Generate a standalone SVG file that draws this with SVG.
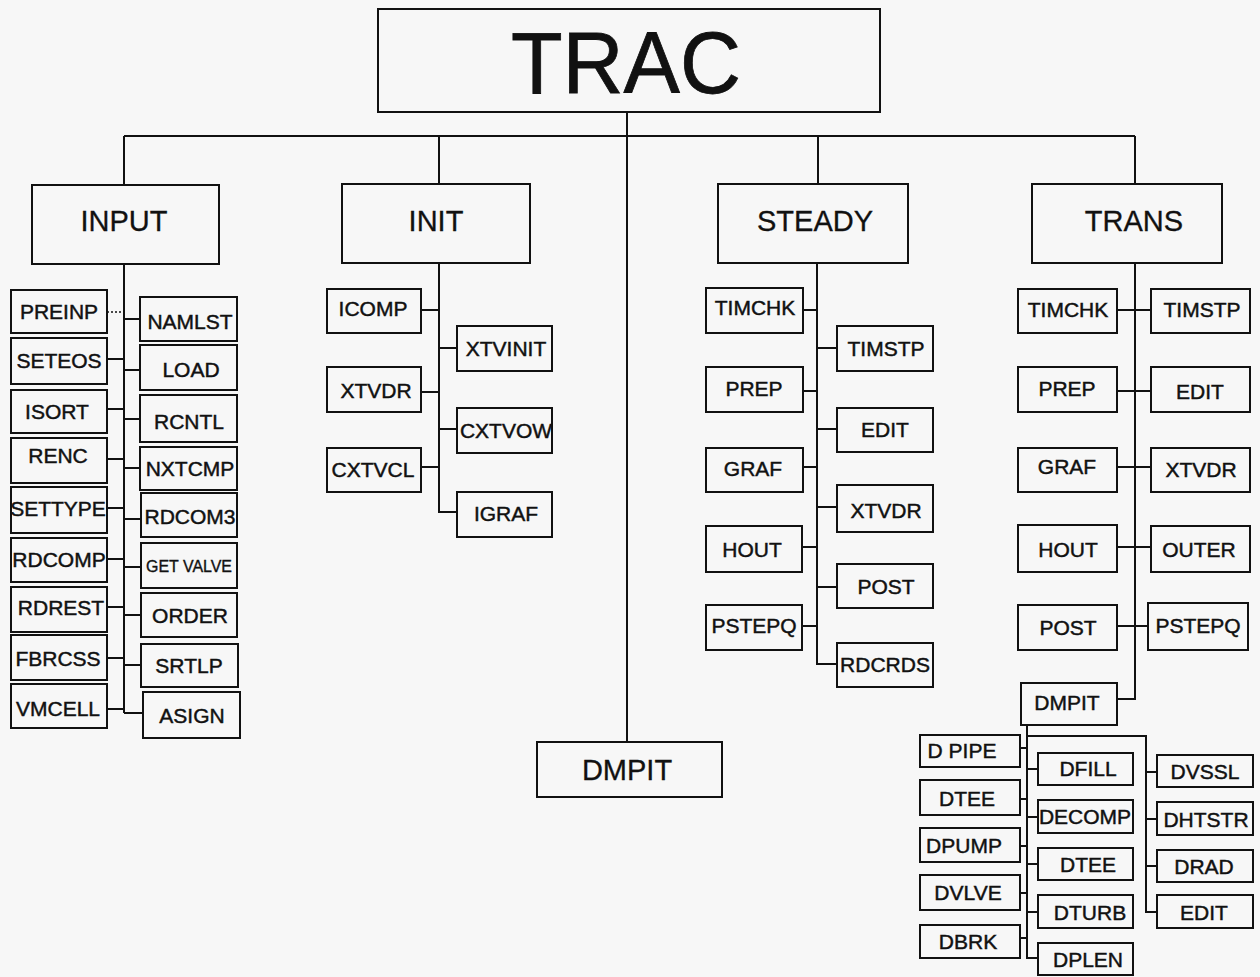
<svg xmlns="http://www.w3.org/2000/svg" width="1260" height="977" viewBox="0 0 1260 977">
  <style>
    .bg { fill: #f7f7f7; }
    .box { fill: none; stroke: #111; stroke-width: 2; }
    .ln { fill: none; stroke: #111; stroke-width: 2; }
    .dot { fill: none; stroke: #111; stroke-width: 1.5; stroke-dasharray: 2 2; }
    text { font-family: "Liberation Sans", Arial, Helvetica, sans-serif; fill: #111; text-anchor: middle; }
    .lbl { font-size: 21px; stroke: #111; stroke-width: 0.45; }
    .sm { font-size: 16px; stroke: #111; stroke-width: 0.35; }
    .mid { font-size: 29px; stroke: #111; stroke-width: 0.3; }
    .big { font-size: 88px; stroke: #111; stroke-width: 0.8; }
  </style>
  <rect class="bg" x="0" y="0" width="1260" height="977"/>

  <!-- connectors -->
  <g id="connectors">
    <!-- root bus -->
    <path class="ln" d="M627 112 V742 M124 136 H1135 M124 136 V185 M439 136 V184 M818 136 V184 M1135 136 V184"/>
    <!-- INPUT branch -->
    <path class="ln" d="M124 264 V713"/>
    <path class="dot" d="M107 312 H124"/>
    <path class="ln" d="M107 359 H124 M107 409 H124 M107 459 H124 M107 508 H124 M107 559 H124 M107 607 H124 M107 658 H124 M107 709 H124"/>
    <path class="ln" d="M124 319 H140 M124 370 H140 M124 419 H140 M124 468 H140 M124 519 H141 M124 567 H141 M124 615 H141 M124 665 H141 M124 713 H143"/>
    <!-- INIT branch -->
    <path class="ln" d="M439 263 V512 H457 M421 310 H439 M421 392 H439 M421 467 H439 M439 348 H457 M439 429 H457"/>
    <!-- STEADY branch -->
    <path class="ln" d="M817 263 V664 H837 M803 310 H817 M803 391 H817 M803 467 H817 M802 547 H817 M802 626 H817 M817 348 H837 M817 429 H837 M817 507 H837 M817 587 H837"/>
    <!-- TRANS branch -->
    <path class="ln" d="M1135 263 V699 H1117 M1117 310 H1151 M1117 391 H1151 M1117 467 H1151 M1117 547 H1151 M1117 626 H1148"/>
    <!-- TRANS / DMPIT branch -->
    <path class="ln" d="M1027 725 V958 H1038 M1027 736 H1146 V912 H1157"/>
    <path class="ln" d="M1020 748 H1027 M1020 799 H1027 M1020 846 H1027 M1020 893 H1027 M1020 938 H1027"/>
    <path class="ln" d="M1027 769 H1038 M1027 817 H1038 M1027 864 H1038 M1027 912 H1038"/>
    <path class="ln" d="M1146 772 H1157 M1146 819 H1157 M1146 866 H1157"/>
  </g>

  <!-- root -->
  <g id="trac"><rect class="box" x="378" y="9" width="502" height="103"/><text class="big" x="626" y="93" textLength="230" lengthAdjust="spacingAndGlyphs">TRAC</text></g>

  <!-- top level -->
  <g id="input"><rect class="box" x="32" y="185" width="187" height="79"/><text class="mid" x="124" y="231">INPUT</text></g>
  <g id="init"><rect class="box" x="342" y="184" width="188" height="79"/><text class="mid" x="436" y="231">INIT</text></g>
  <g id="steady"><rect class="box" x="718" y="184" width="190" height="79"/><text class="mid" x="815" y="231">STEADY</text></g>
  <g id="trans"><rect class="box" x="1032" y="184" width="190" height="79"/><text class="mid" x="1134" y="231">TRANS</text></g>
  <g id="dmpit"><rect class="box" x="537" y="742" width="185" height="55"/><text class="mid" x="627" y="780">DMPIT</text></g>

  <!-- INPUT children -->
  <g id="input-preinp"><rect class="box" x="11" y="290" width="96" height="43"/><text class="lbl" x="59" y="319">PREINP</text></g>
  <g id="input-seteos"><rect class="box" x="11" y="338" width="96" height="46"/><text class="lbl" x="59" y="368">SETEOS</text></g>
  <g id="input-isort"><rect class="box" x="11" y="390" width="96" height="43"/><text class="lbl" x="57" y="419">ISORT</text></g>
  <g id="input-renc"><rect class="box" x="11" y="438" width="96" height="45"/><text class="lbl" x="58" y="463">RENC</text></g>
  <g id="input-settype"><rect class="box" x="11" y="487" width="96" height="46"/><text class="lbl" x="58" y="516">SETTYPE</text></g>
  <g id="input-rdcomp"><rect class="box" x="11" y="538" width="96" height="44"/><text class="lbl" x="59" y="567">RDCOMP</text></g>
  <g id="input-rdrest"><rect class="box" x="11" y="587" width="96" height="45"/><text class="lbl" x="61" y="615">RDREST</text></g>
  <g id="input-fbrcss"><rect class="box" x="11" y="635" width="96" height="45"/><text class="lbl" x="58" y="666">FBRCSS</text></g>
  <g id="input-vmcell"><rect class="box" x="11" y="684" width="96" height="44"/><text class="lbl" x="58" y="716">VMCELL</text></g>

  <g id="input-namlst"><rect class="box" x="140" y="297" width="97" height="44"/><text class="lbl" x="190" y="329">NAMLST</text></g>
  <g id="input-load"><rect class="box" x="140" y="345" width="97" height="45"/><text class="lbl" x="191" y="377">LOAD</text></g>
  <g id="input-rcntl"><rect class="box" x="140" y="395" width="97" height="47"/><text class="lbl" x="189" y="429">RCNTL</text></g>
  <g id="input-nxtcmp"><rect class="box" x="140" y="447" width="97" height="43"/><text class="lbl" x="190" y="476">NXTCMP</text></g>
  <g id="input-rdcom3"><rect class="box" x="141" y="493" width="96" height="44"/><text class="lbl" x="190" y="524">RDCOM3</text></g>
  <g id="input-getvalve"><rect class="box" x="141" y="543" width="96" height="45"/><text class="sm" x="189" y="572" textLength="86" lengthAdjust="spacingAndGlyphs">GET VALVE</text></g>
  <g id="input-order"><rect class="box" x="141" y="593" width="96" height="44"/><text class="lbl" x="190" y="623">ORDER</text></g>
  <g id="input-srtlp"><rect class="box" x="141" y="644" width="97" height="43"/><text class="lbl" x="189" y="673">SRTLP</text></g>
  <g id="input-asign"><rect class="box" x="143" y="692" width="97" height="46"/><text class="lbl" x="192" y="723">ASIGN</text></g>

  <!-- INIT children -->
  <g id="init-icomp"><rect class="box" x="327" y="289" width="94" height="44"/><text class="lbl" x="373" y="316">ICOMP</text></g>
  <g id="init-xtvdr"><rect class="box" x="327" y="367" width="94" height="45"/><text class="lbl" x="376" y="398">XTVDR</text></g>
  <g id="init-cxtvcl"><rect class="box" x="327" y="448" width="94" height="44"/><text class="lbl" x="373" y="477">CXTVCL</text></g>
  <g id="init-xtvinit"><rect class="box" x="457" y="326" width="95" height="45"/><text class="lbl" x="506" y="356">XTVINIT</text></g>
  <g id="init-cxtvow"><rect class="box" x="457" y="408" width="95" height="45"/><text class="lbl" x="506" y="438">CXTVOW</text></g>
  <g id="init-igraf"><rect class="box" x="457" y="492" width="95" height="45"/><text class="lbl" x="506" y="521">IGRAF</text></g>

  <!-- STEADY children -->
  <g id="steady-timchk"><rect class="box" x="706" y="288" width="97" height="45"/><text class="lbl" x="755" y="315">TIMCHK</text></g>
  <g id="steady-prep"><rect class="box" x="706" y="367" width="97" height="45"/><text class="lbl" x="754" y="396">PREP</text></g>
  <g id="steady-graf"><rect class="box" x="706" y="448" width="97" height="44"/><text class="lbl" x="753" y="476">GRAF</text></g>
  <g id="steady-hout"><rect class="box" x="706" y="526" width="96" height="46"/><text class="lbl" x="752" y="557">HOUT</text></g>
  <g id="steady-pstepq"><rect class="box" x="706" y="605" width="96" height="45"/><text class="lbl" x="754" y="633">PSTEPQ</text></g>
  <g id="steady-timstp"><rect class="box" x="837" y="326" width="96" height="45"/><text class="lbl" x="886" y="356">TIMSTP</text></g>
  <g id="steady-edit"><rect class="box" x="837" y="408" width="96" height="44"/><text class="lbl" x="885" y="437">EDIT</text></g>
  <g id="steady-xtvdr"><rect class="box" x="837" y="485" width="96" height="47"/><text class="lbl" x="886" y="518">XTVDR</text></g>
  <g id="steady-post"><rect class="box" x="837" y="564" width="96" height="44"/><text class="lbl" x="886" y="594">POST</text></g>
  <g id="steady-rdcrds"><rect class="box" x="837" y="643" width="96" height="44"/><text class="lbl" x="885" y="672">RDCRDS</text></g>

  <!-- TRANS children -->
  <g id="trans-timchk"><rect class="box" x="1018" y="289" width="99" height="44"/><text class="lbl" x="1068" y="317">TIMCHK</text></g>
  <g id="trans-prep"><rect class="box" x="1018" y="367" width="99" height="45"/><text class="lbl" x="1067" y="396">PREP</text></g>
  <g id="trans-graf"><rect class="box" x="1018" y="448" width="99" height="44"/><text class="lbl" x="1067" y="474">GRAF</text></g>
  <g id="trans-hout"><rect class="box" x="1018" y="525" width="99" height="47"/><text class="lbl" x="1068" y="557">HOUT</text></g>
  <g id="trans-post"><rect class="box" x="1018" y="605" width="99" height="45"/><text class="lbl" x="1068" y="635">POST</text></g>
  <g id="trans-dmpit"><rect class="box" x="1021" y="683" width="96" height="42"/><text class="lbl" x="1067" y="710">DMPIT</text></g>
  <g id="trans-timstp"><rect class="box" x="1151" y="289" width="99" height="44"/><text class="lbl" x="1202" y="317">TIMSTP</text></g>
  <g id="trans-edit"><rect class="box" x="1151" y="367" width="99" height="45"/><text class="lbl" x="1200" y="399">EDIT</text></g>
  <g id="trans-xtvdr"><rect class="box" x="1151" y="448" width="99" height="44"/><text class="lbl" x="1201" y="477">XTVDR</text></g>
  <g id="trans-outer"><rect class="box" x="1151" y="526" width="99" height="46"/><text class="lbl" x="1199" y="557">OUTER</text></g>
  <g id="trans-pstepq"><rect class="box" x="1148" y="603" width="100" height="47"/><text class="lbl" x="1198" y="633">PSTEPQ</text></g>

  <!-- DMPIT (TRANS) children -->
  <g id="d-pipe"><rect class="box" x="920" y="735" width="100" height="32"/><text class="lbl" x="962" y="758">D PIPE</text></g>
  <g id="d-tee1"><rect class="box" x="920" y="780" width="100" height="35"/><text class="lbl" x="967" y="806">DTEE</text></g>
  <g id="d-pump"><rect class="box" x="920" y="828" width="100" height="34"/><text class="lbl" x="964" y="853">DPUMP</text></g>
  <g id="d-vlve"><rect class="box" x="920" y="875" width="100" height="35"/><text class="lbl" x="968" y="900">DVLVE</text></g>
  <g id="d-brk"><rect class="box" x="920" y="925" width="100" height="33"/><text class="lbl" x="968" y="949">DBRK</text></g>
  <g id="d-fill"><rect class="box" x="1038" y="753" width="95" height="32"/><text class="lbl" x="1088" y="776">DFILL</text></g>
  <g id="d-ecomp"><rect class="box" x="1038" y="800" width="95" height="33"/><text class="lbl" x="1085" y="824">DECOMP</text></g>
  <g id="d-tee2"><rect class="box" x="1038" y="848" width="95" height="32"/><text class="lbl" x="1088" y="872">DTEE</text></g>
  <g id="d-turb"><rect class="box" x="1038" y="895" width="95" height="33"/><text class="lbl" x="1090" y="920">DTURB</text></g>
  <g id="d-plen"><rect class="box" x="1038" y="943" width="95" height="32"/><text class="lbl" x="1088" y="967">DPLEN</text></g>
  <g id="d-vssl"><rect class="box" x="1157" y="755" width="96" height="32"/><text class="lbl" x="1205" y="779">DVSSL</text></g>
  <g id="d-htstr"><rect class="box" x="1157" y="802" width="96" height="33"/><text class="lbl" x="1206" y="827">DHTSTR</text></g>
  <g id="d-rad"><rect class="box" x="1157" y="850" width="96" height="32"/><text class="lbl" x="1204" y="874">DRAD</text></g>
  <g id="d-edit"><rect class="box" x="1157" y="895" width="96" height="33"/><text class="lbl" x="1204" y="920">EDIT</text></g>
</svg>
